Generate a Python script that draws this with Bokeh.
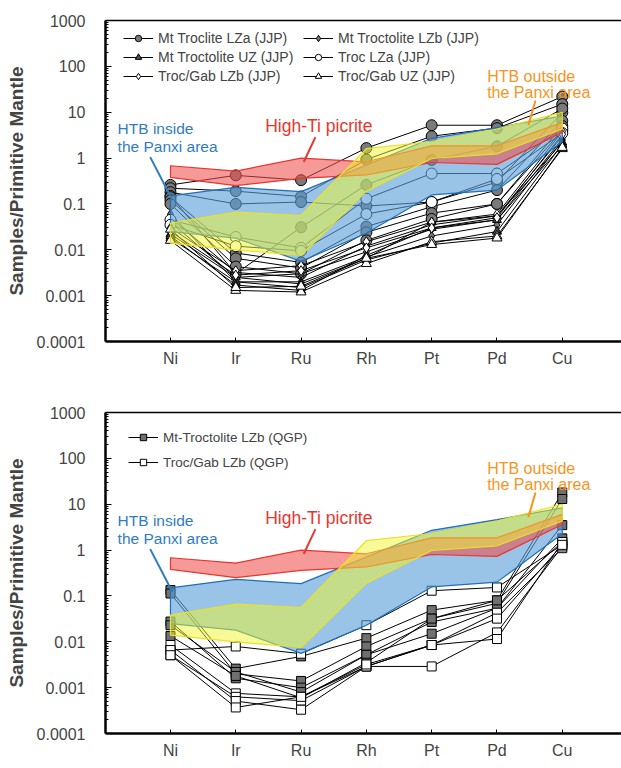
from bokeh.plotting import figure
from bokeh.models import FixedTicker, LinearAxis, Legend, LegendItem, Label, Range1d
from bokeh.layouts import column
from bokeh.embed import file_html
from bokeh.resources import INLINE
from bokeh.core.properties import value

FONT = "Liberation Sans"

elements = ["Ni", "Ir", "Ru", "Rh", "Pt", "Pd", "Cu"]
xi = list(range(len(elements)))

# reference fields: upper and lower boundaries
picrite_top = [0.68, 0.52, 1.0, 0.83, 1.85, 1.85, 6.0]
picrite_bot = [0.38, 0.25, 0.36, 0.43, 0.80, 0.73, 3.6]
htb_in_top = [0.15, 0.23, 0.185, 0.7, 2.7, 4.6, 8.3]
htb_in_bot = [0.025, 0.018, 0.0056, 0.023, 0.157, 0.2, 2.26]
htb_out_top = [0.038, 0.066, 0.056, 1.6, 2.3, 4.3, 10.0]
htb_out_bot = [0.014, 0.010, 0.0075, 0.19, 0.98, 1.24, 4.3]

# panel a samples (JJP)
mt_troclite_lza = [
    [0.26, 0.42, 0.33, 1.65, 5.2, 5.2, 22],
    [0.22, 0.19, 0.145, 0.93, 3.0, 4.5, 15],
    [0.18, 0.10, 0.11, 0.09, 0.11, 0.30, 9.8],
    [0.15, 0.003, 0.031, 0.26, 0.91, 1.8, 12],
    [0.14, 0.0085, 0.0053, 0.032, 0.087, 0.20, 6.5],
    [0.12, 0.0065, 0.004, 0.024, 0.063, 0.10, 5.0],
    [0.10, 0.0043, 0.003, 0.016, 0.047, 0.10, 4.0],
]
mt_troctolite_lzb = [
    [0.05, 0.0032, 0.0025, 0.012, 0.035, 0.055, 3.0],
    [0.04, 0.0025, 0.003, 0.009, 0.028, 0.045, 2.6],
    [0.06, 0.002, 0.002, 0.007, 0.02, 0.035, 2.4],
]
mt_troctolite_uz = [
    [0.022, 0.0025, 0.0018, 0.0065, 0.04, 0.055, 2.2],
    [0.018, 0.002, 0.0015, 0.006, 0.014, 0.025, 2.0],
    [0.02, 0.0017, 0.0013, 0.0075, 0.03, 0.045, 1.9],
]
troc_lza = [
    [0.045, 0.019, 0.011, 0.13, 0.46, 0.46, 4.4],
    [0.035, 0.012, 0.0095, 0.06, 0.11, 0.35, 3.5],
]
troc_gab_lzb = [
    [0.03, 0.0035, 0.0045, 0.015, 0.04, 0.06, 3.8],
    [0.025, 0.0028, 0.0035, 0.011, 0.03, 0.05, 3.3],
]
troc_gab_uz = [
    [0.016, 0.0013, 0.0012, 0.005, 0.015, 0.02, 1.6],
    [0.028, 0.0015, 0.0016, 0.0065, 0.013, 0.018, 1.7],
]

# panel b samples (QGP)
mt_troctolite_lzb_qgp = [
    [0.134, 0.0026, 0.0048, 0.012, 0.049, 0.08, 18],
    [0.113, 0.0020, 0.0014, 0.0079, 0.032, 0.069, 13],
    [0.0276, 0.0016, 0.0010, 0.0052, 0.027, 0.054, 3.5],
    [0.023, 0.0022, 0.0008, 0.0052, 0.015, 0.054, 1.8],
    [0.0134, 0.0018, 0.0006, 0.0035, 0.032, 0.08, 1.5],
]
troc_gab_lzb_qgp = [
    [0.0066, 0.0079, 0.0055, 0.023, 0.13, 0.153, 1.3],
    [0.0085, 0.00075, 0.00063, 0.0029, 0.0085, 0.043, 1.1],
    [0.0051, 0.00063, 0.00052, 0.0029, 0.0029, 0.016, 1.2],
    [0.0066, 0.00051, 0.00033, 0.0029, 0.0085, 0.0115, 1.5],
    [0.0051, 0.00037, 0.00063, 0.0032, 0.0085, 0.032, 1.3],
]

decades = [1e-4, 1e-3, 1e-2, 1e-1, 1.0, 10.0, 100.0, 1000.0]
decade_labels = ["0.0001", "0.001", "0.01", "0.1", "1", "10", "100", "1000"]

# annotation texts (element index, value)
note_in = ["HTB inside", "the Panxi area"]
note_in_x = [-0.81, -0.81]
note_in_y = [4.5, 1.75]
note_pic = ["High-Ti picrite"]
note_pic_x = [1.45]
note_pic_y = [5.0]
note_out = ["HTB outside", "the Panxi area"]
note_out_x = [4.85, 4.85]
note_out_y = [60.0, 27.0]
lead_in = ([-0.31], [1.05], [0.03], [0.122])
lead_pic = ([2.22], [2.87], [2.04], [0.82])
lead_out = ([5.59], [18.0], [5.48], [5.2])

RED, BLUE, ORANGE = "#e8372c", "#2f7dc0", "#f7941d"


def make_panel(series, top_border, bottom_border, letter):
    p = figure(width=621, height=384, y_axis_type="log",
               x_range=Range1d(-0.995, 6.907), y_range=Range1d(1e-4, 1e3),
               output_backend="svg", toolbar_location=None,
               min_border_left=105, min_border_right=0,
               min_border_top=top_border, min_border_bottom=bottom_border)
    p.outline_line_color = None
    p.xgrid.visible = False
    p.ygrid.visible = False
    p.background_fill_color = "white"

    xa = p.xaxis[0]
    xa.ticker = FixedTicker(ticks=xi)
    xa.major_label_overrides = {i: e for i, e in zip(xi, elements)}
    xa.major_tick_in, xa.major_tick_out = 4, 0
    xa.minor_tick_line_color = None
    xa.axis_line_width = 2.5
    xa.major_label_text_font = FONT
    xa.major_label_text_font_size = "16px"
    xa.major_label_standoff = 8

    minors = [k * d for d in decades[:-1] for k in range(2, 10)]
    ya = p.yaxis[0]
    ya.ticker = FixedTicker(ticks=decades, minor_ticks=minors)
    ya.major_label_overrides = {d: s for d, s in zip(decades, decade_labels)}
    ya.major_tick_in, ya.major_tick_out = 6, 0
    ya.minor_tick_in, ya.minor_tick_out = 3, 0
    ya.axis_line_width = 2.5
    ya.major_label_text_font = FONT
    ya.major_label_text_font_size = "16px"
    ya.major_label_standoff = 20
    ya.axis_label = "Samples/Primitive Mantle"
    ya.axis_label_text_font = FONT
    ya.axis_label_text_font_style = "bold"
    ya.axis_label_text_font_size = "19px"
    ya.axis_label_standoff = 7

    top = LinearAxis(ticker=FixedTicker(ticks=[]), axis_line_width=1.5,
                     major_tick_out=0, major_tick_in=0, minor_tick_out=0,
                     major_label_standoff=0, major_label_text_font_size="0px")
    p.add_layout(top, "above")

    items_by_col = [[], []]
    for k, (name, data, marker, fill, size, col) in enumerate(series):
        ml = p.multi_line([xi] * len(data), data, line_color="black", line_width=1)
        xs = [x for row in data for x in xi]
        ys = [v for row in data for v in row]
        sc = p.scatter(xs, ys, marker=marker, size=size, fill_color=fill,
                       line_color="black", line_width=1)
        items_by_col[col].append(LegendItem(label=name, renderers=[ml, sc]))

    # reference fields drawn over the samples
    def field(top_v, bot_v, color, alpha, line):
        p.patch(xi + xi[::-1], top_v + bot_v[::-1], fill_color=color,
                fill_alpha=alpha, line_color=line, line_width=1.2)
    field(htb_in_top, htb_in_bot, "#5aa0d8", 0.62, "#1f6fb8")
    field(picrite_top, picrite_bot, "#f05050", 0.58, "#e8372c")
    field(htb_out_top, htb_out_bot, "#f0f530", 0.5, "#ece02a")

    for (x0, y0, x1, y1), c in ((lead_in, BLUE), (lead_pic, RED), (lead_out, ORANGE)):
        p.segment(x0, y0, x1, y1, line_color=c, line_width=2)
    p.text(note_in_x, note_in_y, text=note_in, text_color=BLUE,
           text_font=value(FONT), text_font_size="15.5px", text_baseline="middle")
    p.text(note_pic_x, note_pic_y, text=note_pic, text_color=RED,
           text_font=value(FONT), text_font_size="17.5px", text_baseline="middle")
    p.text(note_out_x, note_out_y, text=note_out, text_color=ORANGE,
           text_font=value(FONT), text_font_size="16px", text_baseline="middle")

    p.add_layout(Label(x=-83, y=322, x_units="screen", y_units="screen", text=letter,
                       text_font=FONT, text_font_size="21px", text_font_style="bold",
                       text_align="center", text_baseline="middle"))
    return p, items_by_col


def style_legend(lg, gh, sp, fs):
    lg.glyph_width = 30
    lg.glyph_height = gh
    lg.label_height = gh
    lg.spacing = sp
    lg.padding = 0
    lg.margin = 0
    lg.label_standoff = 5
    lg.border_line_color = None
    lg.background_fill_alpha = 0
    lg.label_text_font = FONT
    lg.label_text_font_size = fs


series_a = [
    ("Mt Troclite LZa (JJP)", mt_troclite_lza, "circle", "#7a7a7a", 11, 0),
    ("Mt Troctolite LZb (JJP)", mt_troctolite_lzb, "diamond", "#7a7a7a", 9, 1),
    ("Mt Troctolite UZ (JJP)", mt_troctolite_uz, "triangle", "#505050", 9, 0),
    ("Troc LZa (JJP)", troc_lza, "circle", "white", 11, 1),
    ("Troc/Gab LZb (JJP)", troc_gab_lzb, "diamond", "white", 10, 0),
    ("Troc/Gab UZ (JJP)", troc_gab_uz, "triangle", "white", 10, 1),
]
pa, cols_a = make_panel(series_a, 20, 43, "a")
for col, xloc in zip(cols_a, (18, 198)):
    lg = Legend(items=col, location=(xloc, 257))
    style_legend(lg, 16, 3, "14px")
    pa.add_layout(lg)

series_b = [
    ("Mt-Troctolite LZb (QGP)", mt_troctolite_lzb_qgp, "square", "#707070", 9, 0),
    ("Troc/Gab LZb (QGP)", troc_gab_lzb_qgp, "square", "white", 9, 0),
]
pb, cols_b = make_panel(series_b, 28, 35, "b")
lgb = Legend(items=cols_b[0], location=(23, 263))
style_legend(lgb, 16, 9, "13.5px")
pb.add_layout(lgb)

layout = column(pa, pb, spacing=0)
open("out.html", "w").write(file_html(layout, INLINE))
